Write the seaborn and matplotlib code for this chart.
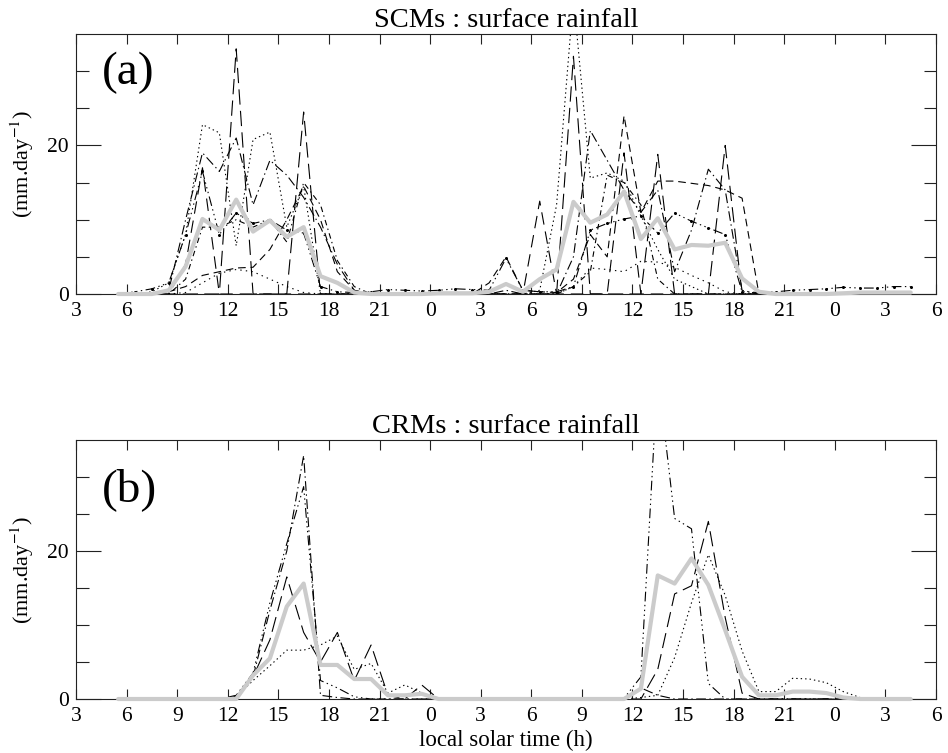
import numpy as np
import pandas as pd
import matplotlib
matplotlib.use("Agg")
import matplotlib.pyplot as plt
import seaborn as sns

# ---------------- data ----------------
# hourly values, local solar time 5.5 h (day 1) ... 4.5 h (day 3), continuous hours
hours = np.arange(5.5, 53.0, 1.0)

xtick_pos = [3, 6, 9, 12, 15, 18, 21, 24, 27, 30, 33, 36, 39, 42, 45, 48, 51, 54]
xtick_labels = ["3", "6", "9", "12", "15", "18", "21", "0", "3",
                "6", "9", "12", "15", "18", "21", "0", "3", "6"]

# SCMs (panel a)
scm_mean = [0, 0, 0, 0.5, 3.7, 10.1, 8.6, 12.7, 8.4, 9.9, 7.7, 9.0,
            2.4, 1.5, 0.2, 0, 0, 0, 0, 0.1, 0.1, 0.1, 0.3, 1.35,
            0.3, 2.0, 3.3, 12.4, 9.6, 10.7, 13.8, 7.4, 10.2, 6.0, 6.6, 6.5,
            6.9, 2.1, 0.3, 0, 0, 0, 0, 0.1, 0.2, 0.2, 0.2, 0.2]
scm_m1 = [0, 0, 0, 0, 0, 0, 0, 33, 0, 0, 0, 24.5,
          0, 0, 0, 0, 0, 0, 0, 0, 0, 0, 0, 0,
          0, 0, 0, 32, 0, 0, 0, 0, 18.8, 0, 0, 0,
          20, 0, 0, 0, 0, 0, 0, 0, 0, 0, 0, 0]
scm_m2 = [0, 0, 0, 0, 4, 17, 0, 0, 0, 0, 0, 0,
          0, 0, 0, 0, 0, 0, 0, 0, 0, 0, 0, 0,
          0, 12.5, 0, 0, 0, 0, 19, 0, 0, 0, 0, 0,
          0, 0, 0, 0, 0, 0, 0, 0, 0, 0, 0, 0]
scm_m3 = [0, 0, 0, 0.3, 1, 2.5, 3, 3.5, 3.6, 6, 10, 14.5,
          10, 3, 0.5, 0, 0, 0, 0, 0, 0, 0, 1.5, 5,
          0.5, 0.3, 0.2, 2, 8, 5, 24, 11, 15.2, 15.2, 14.9, 14.6,
          14, 12.9, 0, 0, 0, 0, 0, 0, 0, 0, 0, 0]
scm_m4 = [0, 0, 0.3, 1.5, 8, 22.8, 21.7, 6.5, 20.8, 21.8, 9, 14.5,
          0, 0, 0, 0, 0, 0, 0, 0, 0, 0, 0, 0,
          0, 0.5, 12, 40, 15.6, 16.3, 15.2, 10.5, 6, 2, 1, 0,
          0, 0, 0, 0, 0, 0, 0, 0, 0, 0, 0, 0]
scm_m5 = [0, 0, 0, 0.5, 10, 19, 16.5, 21, 12, 18, 16, 13,
          9, 4, 0.5, 0, 0, 0, 0, 0, 0, 0, 0, 0.5,
          0, 0, 0, 5, 22, 18, 14, 11, 14, 3, 8.6, 16.8,
          14, 0.5, 0, 0, 0, 0, 0, 0, 0, 0, 0, 0]
scm_m6 = [0, 0.3, 0.7, 1.5, 8, 16.5, 8, 10.9, 9.5, 10, 8.6, 8.2,
          1, 0.3, 0.2, 0.3, 0.6, 0.5, 0.4, 0.5, 0.7, 0.6, 0.5, 4.8,
          0.5, 0.3, 0.3, 1, 8.6, 9.5, 10.1, 10.5, 8.2, 10.9, 9.8, 8.9,
          8, 0.3, 0.2, 0.3, 0.5, 0.6, 0.7, 0.9, 0.8, 0.8, 1, 1]
scm_m7 = [0, 0, 0, 0, 0.2, 1.5, 2.8, 3.3, 3, 2, 1, 0.2,
          0, 0, 0, 0, 0, 0, 0, 0, 0, 0, 0, 0,
          0, 0, 0, 1, 3.5, 3.3, 3, 4.4, 4.3, 3.6, 2.5, 1.5,
          0.3, 0, 0, 0, 0, 0, 0, 0, 0, 0, 0, 0]
scm_m8 = [0, 0, 0, 0, 2, 9, 9, 10, 9, 10, 7, 15,
          12, 4.5, 1, 0, 0, 0, 0, 0, 0, 0, 0, 0,
          0, 0, 0, 1, 3, 16, 15, 12, 2, 0, 0, 0,
          0, 0, 0, 0, 0, 0, 0, 0, 0, 0, 0, 0]

# CRMs (panel b)
crm_mean = [0, 0, 0, 0, 0, 0, 0, 0, 3.2, 5.5, 12.5, 15.6,
            4.6, 4.6, 2.7, 2.7, 0.5, 0.5, 0.7, 0, 0, 0, 0, 0,
            0, 0, 0, 0, 0, 0, 0, 1.4, 16.7, 15.6, 19.0, 15.4,
            9.3, 3.0, 0.5, 0.5, 1.0, 1.0, 0.8, 0.2, 0, 0, 0, 0]
crm_m1 = [0, 0, 0, 0, 0, 0, 0, 0.3, 2.5, 4.5, 6.6, 6.6,
          7.3, 8.5, 4, 4.8, 0.8, 1.9, 0.8, 0, 0, 0, 0, 0,
          0, 0, 0, 0, 0, 0, 0, 0.2, 0.5, 5.6, 13, 19.5,
          14, 6.5, 1, 1, 2.8, 2.7, 2.2, 1, 0.2, 0, 0, 0]
crm_m2 = [0, 0, 0, 0, 0, 0, 0, 0.2, 3, 8, 16.5, 9,
          5, 9, 2.5, 7.3, 0.5, 0, 1.9, 0, 0, 0, 0, 0,
          0, 0, 0, 0, 0, 0, 0, 0, 4, 14.2, 15.3, 24,
          11, 0.8, 0, 0, 0, 0, 0, 0, 0, 0, 0, 0]
crm_m3 = [0, 0, 0, 0, 0, 0, 0, 0.5, 3.5, 13, 21, 28.7,
          2.5, 1.5, 0.3, 0, 0, 0, 0, 0, 0, 0, 0, 0,
          0, 0, 0, 0, 0, 0, 0.1, 3, 44, 24.4, 23, 2.1,
          0, 0, 0, 0, 0, 0, 0, 0, 0, 0, 0, 0]
crm_m4 = [0, 0, 0, 0, 0, 0, 0, 0.3, 3, 12, 20, 32.9,
          0.5, 0.2, 0, 0, 0, 0, 0, 0, 0, 0, 0, 0,
          0, 0, 0, 0, 0, 0, 0, 1.5, 0.5, 0, 0, 0,
          0, 0, 0, 0, 0, 0, 0, 0, 0, 0, 0, 0]

# ---------------- styles ----------------
DOT = (0, (1.0, 2.2))
DASH = (0, (5.5, 3.5))
LDASH = (0, (11, 4.5))
DASHDOT = (0, (7, 2.5, 1, 2.5))
DASH3DOT = (0, (7, 2.5, 1, 2.5, 1, 2.5, 1, 2.5))

scm_lines = [(scm_m1, LDASH, None), (scm_m2, (0, (9, 5)), None),
             (scm_m3, DASH, None), (scm_m4, DOT, None),
             (scm_m5, DASHDOT, None), (scm_m6, DASH3DOT, "o"),
             (scm_m7, (0, (1.0, 3.0)), None), (scm_m8, (0, (4, 2.5, 1, 2.5)), None)]
crm_lines = [(crm_m1, DOT, None), (crm_m2, LDASH, None),
             (crm_m3, DASH3DOT, None), (crm_m4, DASHDOT, None)]

sns.set_style("ticks")
plt.rcParams["font.family"] = ["Liberation Serif", "DejaVu Serif"]
plt.rcParams["mathtext.fontset"] = "stix"
plt.rcParams["lines.scale_dashes"] = False
for key in ["text.color", "axes.labelcolor", "xtick.color", "ytick.color",
            "xtick.labelcolor", "ytick.labelcolor", "axes.edgecolor"]:
    plt.rcParams[key] = "black"

GRAY = "#cbcbcb"
W, H = 948, 753
fig = plt.figure(figsize=(W / 100, H / 100), dpi=100)
ax_a = fig.add_axes([76 / W, 1 - 294 / H, 860 / W, 260 / H])
ax_b = fig.add_axes([76 / W, 1 - 699 / H, 860 / W, 259 / H])


def draw(ax, lines, mean, title, tag, tag_y):
    for vals, ls, mk in lines:
        sns.lineplot(x=hours, y=vals, ax=ax, color="k", lw=0.8, linestyle=ls,
                     marker=mk if mk else "", markersize=2.2, markeredgewidth=0,
                     estimator=None, sort=False, legend=False, zorder=2)
    sns.lineplot(x=hours, y=mean, ax=ax, color=GRAY, lw=3.0, estimator=None,
                 sort=False, legend=False, zorder=3, clip_on=False)
    ax.set_xlim(3, 54)
    ax.set_ylim(0, 35)
    ax.set_xticks(xtick_pos)
    ax.set_xticklabels(xtick_labels)
    ax.set_yticks([0, 20])
    ax.set_yticks([5, 10, 15, 25, 30], minor=True)
    ax.tick_params(axis="x", which="major", direction="in", length=7, width=0.8,
                   top=True, bottom=True, labelsize=15.5, pad=6, color="#222222")
    ax.tick_params(axis="x", which="minor", top=False, bottom=False)
    ax.tick_params(axis="y", which="major", direction="in", length=18, width=0.8,
                   left=True, right=True, labelsize=15.5, pad=5, color="#222222")
    ax.tick_params(axis="y", which="minor", direction="in", length=9, width=0.8,
                   left=True, right=True, color="#222222")
    for sp in ax.spines.values():
        sp.set_visible(True)
        sp.set_linewidth(0.8)
        sp.set_color("#222222")
    ax.set_title(title, fontsize=20.5, pad=5, color="black")
    ax.set_xlabel("")
    ax.set_ylabel("(mm.day$^{-1}$)", fontsize=16, va="center", color="black")
    ax.yaxis.set_label_coords((22 - 76) / 860, 0.5)
    ax.text(0.03, tag_y, tag, transform=ax.transAxes, fontsize=34,
            ha="left", va="center", color="black")


draw(ax_a, scm_lines, scm_mean, "SCMs : surface rainfall", "(a)", 0.85)
draw(ax_b, crm_lines, crm_mean, "CRMs : surface rainfall", "(b)", 0.81)
ax_b.set_xlabel("local solar time (h)", fontsize=16.5, va="center", color="black")
ax_b.xaxis.set_label_coords(0.5, -(740 - 699) / 259)

fig.savefig("out.png", dpi=100)
